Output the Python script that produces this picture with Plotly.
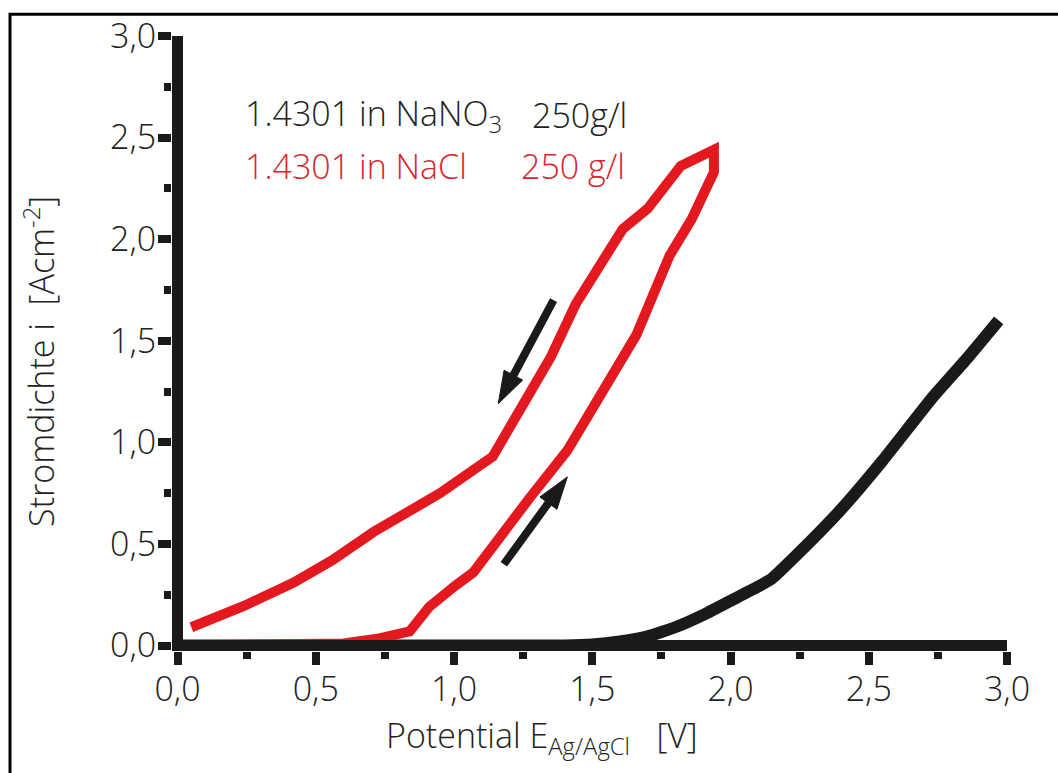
import plotly.graph_objects as go

# ---- data ----
nano3_E = [0.0, 1.40, 1.50, 1.60, 1.70, 1.80, 1.90, 2.00, 2.10, 2.15, 2.25, 2.40, 2.55, 2.73, 2.86, 2.97]
nano3_i = [0.0, 0.0, 0.005, 0.02, 0.045, 0.09, 0.15, 0.22, 0.29, 0.33, 0.46, 0.67, 0.91, 1.22, 1.42, 1.60]

nacl_E = [0.0, 0.50, 0.60, 0.73, 0.84, 0.91, 0.96, 1.00, 1.07, 1.17, 1.27, 1.41, 1.48, 1.66, 1.78, 1.86, 1.94,
          1.94, 1.82, 1.70, 1.61, 1.44, 1.35, 1.24, 1.14, 0.95, 0.78, 0.71, 0.56, 0.42, 0.24, 0.05]
nacl_i = [0.0, 0.0, 0.01, 0.035, 0.07, 0.19, 0.25, 0.29, 0.36, 0.55, 0.72, 0.96, 1.12, 1.53, 1.92, 2.10, 2.33,
          2.44, 2.36, 2.15, 2.05, 1.68, 1.42, 1.17, 0.93, 0.75, 0.62, 0.56, 0.42, 0.31, 0.195, 0.09]

# scan-direction arrows: [tail, head]
arrow_down_E = [1.36, 1.16]
arrow_down_i = [1.70, 1.19]
arrow_up_E = [1.18, 1.41]
arrow_up_i = [0.40, 0.83]

x_ticks = [0.0, 0.5, 1.0, 1.5, 2.0, 2.5, 3.0]
y_ticks = [0.0, 0.5, 1.0, 1.5, 2.0, 2.5, 3.0]

RED = "#e3191f"
BLACK = "#1a1a1a"
TXT = "#222222"
FONT = "Open Sans"
FS = 34
FW = 300

W, H = 1058, 773
L, R, T, B = 172, 51, 32, 122
pw, ph = W - L - R, H - T - B
AX_W = 11
dx = (AX_W / 2) / (pw - AX_W / 2) * 3.0
dy = (AX_W / 2) / (ph - AX_W / 2) * 3.0

fig = go.Figure()
fig.add_trace(go.Scatter(x=nano3_E, y=nano3_i, mode="lines",
                         line=dict(color=BLACK, width=12, shape="spline", smoothing=0.4),
                         showlegend=False, hoverinfo="skip"))
fig.add_trace(go.Scatter(x=nacl_E, y=nacl_i, mode="lines",
                         line=dict(color=RED, width=10), showlegend=False, hoverinfo="skip"))

for ae, ai in ((arrow_down_E, arrow_down_i), (arrow_up_E, arrow_up_i)):
    fig.add_trace(go.Scatter(x=ae, y=ai, mode="lines+markers",
                             line=dict(color=BLACK, width=8),
                             marker=dict(symbol="arrow", size=[0, 34], angleref="previous",
                                         color=BLACK, opacity=1, line=dict(width=1, color=BLACK)),
                             showlegend=False, hoverinfo="skip"))

# axis lines through the origin (drawn above the curves, as in the original)
fig.add_shape(type="line", xref="x", yref="y", x0=-dx, x1=3.0, y0=0, y1=0,
              line=dict(color=BLACK, width=AX_W), layer="above")
fig.add_shape(type="line", xref="x", yref="y", x0=0, x1=0, y0=-dy, y1=3.0,
              line=dict(color=BLACK, width=AX_W), layer="above")


def px(xp):
    return (xp - L) / pw


def py(yp):
    return (H - B - yp) / ph


tf = dict(family=FONT, size=FS, color=TXT, weight=FW)
rf = dict(family=FONT, size=FS, color="#d9252e", weight=FW)
fig.add_annotation(x=px(243), y=py(112), xref="paper", yref="paper", xanchor="left", yanchor="middle",
                   text="1.4301 in NaNO<sub>3</sub>", showarrow=False, font=tf)
fig.add_annotation(x=px(530), y=py(112), xref="paper", yref="paper", xanchor="left", yanchor="middle",
                   text="250g/l", showarrow=False, font=tf)
fig.add_annotation(x=px(243), y=py(163), xref="paper", yref="paper", xanchor="left", yanchor="middle",
                   text="1.4301 in NaCl", showarrow=False, font=rf)
fig.add_annotation(x=px(519), y=py(163), xref="paper", yref="paper", xanchor="left", yanchor="middle",
                   text="250 g/l", showarrow=False, font=rf)

fig.add_annotation(x=px(542), y=py(738), xref="paper", yref="paper", xanchor="center", yanchor="middle",
                   text="Potential E<sub>Ag/AgCl</sub>\u00a0\u00a0 [V]", showarrow=False, font=tf)
fig.add_annotation(x=px(40), y=py(360), xref="paper", yref="paper", xanchor="center", yanchor="middle",
                   text="Stromdichte i\u00a0 [Acm<sup>-2</sup>]", textangle=-90, showarrow=False, font=tf)

# frame of the original figure (left and top edges visible)
fig.add_shape(type="rect", xref="paper", yref="paper", x0=px(10), x1=px(1075), y0=py(10), y1=py(790),
              line=dict(color="black", width=3), fillcolor="rgba(0,0,0,0)", layer="above")

axis_common = dict(showgrid=False, zeroline=False, showline=False,
                   ticks="outside", ticklen=13, tickwidth=8, tickcolor=BLACK,
                   tickformat=".1f", tickfont=dict(family=FONT, size=FS, color=TXT, weight=FW),
                   ticklabelstandoff=-5,
                   minor=dict(ticks="outside", ticklen=7, tickwidth=8, tickcolor=BLACK, dtick=0.25),
                   fixedrange=True)

fig.update_layout(
    width=W, height=H,
    margin=dict(l=L, r=R, t=T, b=B, pad=0),
    paper_bgcolor="white", plot_bgcolor="white",
    separators=",.",
    xaxis=dict(range=[-dx, 3.0], tickvals=x_ticks, **axis_common),
    yaxis=dict(range=[-dy, 3.0], tickvals=y_ticks, **axis_common),
    font=dict(family=FONT, color=TXT),
)

fig.write_html("out.html")
